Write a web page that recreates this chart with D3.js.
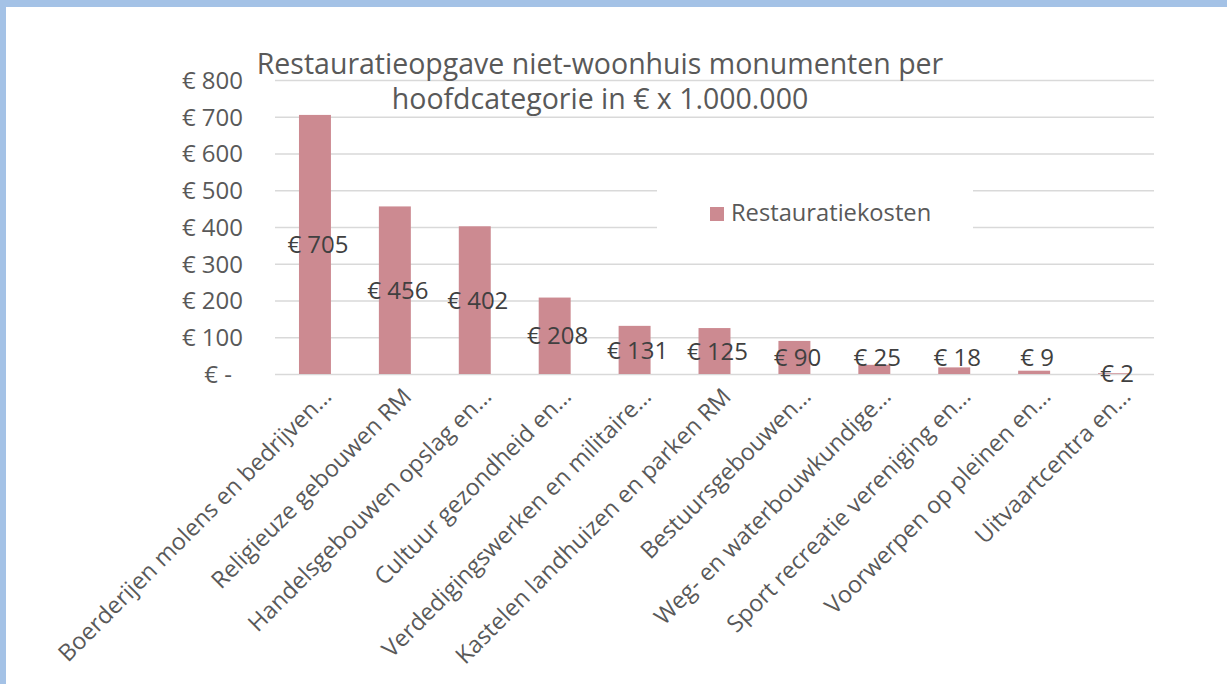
<!DOCTYPE html>
<html>
<head>
<meta charset="utf-8">
<script src="https://cdn.jsdelivr.net/npm/d3@7"></script>
<style>
  body { margin: 0; background: #ffffff; }
  svg { display: block; font-family: "Open Sans", sans-serif; }
</style>
</head>
<body>
<div id="chart"></div>
<script>
// Chart data
var categories = [
    "Boerderijen molens en bedrijven…",
    "Religieuze gebouwen RM",
    "Handelsgebouwen opslag en…",
    "Cultuur gezondheid en…",
    "Verdedigingswerken en militaire…",
    "Kastelen landhuizen en parken RM",
    "Bestuursgebouwen…",
    "Weg- en waterbouwkundige…",
    "Sport recreatie vereniging en…",
    "Voorwerpen op pleinen en…",
    "Uitvaartcentra en…"
];
var costs = [705, 456, 402, 208, 131, 125, 90, 25, 18, 9, 2];
var yTicks = [0, 100, 200, 300, 400, 500, 600, 700, 800];
var titleLines = ["Restauratieopgave niet-woonhuis monumenten per", "hoofdcategorie in € x 1.000.000"];
var seriesName = "Restauratiekosten";

// SVG area
var svgWidth = 1227;
var svgHeight = 684;

// plot area inside the svg
var chartMargin = { top: 80, right: 73, bottom: 310, left: 275 };
var width = svgWidth - chartMargin.left - chartMargin.right;
var height = svgHeight - chartMargin.top - chartMargin.bottom;

var svg = d3.select("#chart")
    .append("svg")
    .attr("width", svgWidth)
    .attr("height", svgHeight);

// blue frame at top and left
svg.append("rect").attr("x", 0).attr("y", 0).attr("width", svgWidth).attr("height", 7).attr("fill", "#a4c2e6");
svg.append("rect").attr("x", 0).attr("y", 0).attr("width", 6).attr("height", svgHeight).attr("fill", "#a4c2e6");

var chartGroup = svg.append("g")
    .attr("transform", `translate(${chartMargin.left}, ${chartMargin.top})`);

// scales
var xBandScale = d3.scaleBand()
    .domain(categories)
    .range([0, width])
    .paddingInner(0.6)
    .paddingOuter(0.3);

var yLinearScale = d3.scaleLinear()
    .domain([0, 800])
    .range([height, 0]);

// y axis with gridlines
var leftAxis = d3.axisLeft(yLinearScale)
    .tickValues(yTicks)
    .tickSize(-width)
    .tickPadding(32)
    .tickFormat(d => d === 0 ? "€ -" : "€ " + d);

var yAxis = chartGroup.append("g")
    .call(leftAxis);
yAxis.select(".domain").remove();
yAxis.selectAll(".tick line")
    .attr("stroke", "#d9d9d9")
    .attr("stroke-width", 1.5);
yAxis.selectAll(".tick text")
    .attr("fill", "#595959")
    .attr("font-size", 24)
    .attr("font-family", "Open Sans, sans-serif")
    .attr("dy", "0.35em")
    .attr("dx", d => d === 0 ? -11 : 0);

// legend (white box hides gridlines behind it)
var legend = chartGroup.append("g")
    .attr("transform", `translate(${657 - chartMargin.left}, ${186 - chartMargin.top})`);
legend.append("rect")
    .attr("width", 316)
    .attr("height", 47)
    .attr("fill", "#ffffff");
legend.append("rect")
    .attr("x", 53)
    .attr("y", 21)
    .attr("width", 14)
    .attr("height", 14)
    .attr("fill", "#cc8a91");
legend.append("text")
    .attr("x", 74)
    .attr("y", 35)
    .attr("fill", "#595959")
    .attr("font-size", 23.7)
    .text(seriesName);

// bars
chartGroup.selectAll("rect.bar")
    .data(costs)
    .enter()
    .append("rect")
    .attr("class", "bar")
    .attr("x", (d, i) => xBandScale(categories[i]))
    .attr("y", d => yLinearScale(d))
    .attr("width", xBandScale.bandwidth())
    .attr("height", d => height - yLinearScale(d))
    .attr("fill", "#cc8a91");

// data labels in the middle of each bar;
// small bars get their label lifted so it sits above the axis line (the tiniest one stays on it)
function labelY(d) {
    var mid = (yLinearScale(d) + height) / 2;
    if (d < 5) return mid;
    return Math.min(mid, yLinearScale(45));
}

chartGroup.selectAll("text.value")
    .data(costs)
    .enter()
    .append("text")
    .attr("class", "value")
    .attr("x", (d, i) => xBandScale(categories[i]) + xBandScale.bandwidth() / 2 + 3)
    .attr("y", d => labelY(d))
    .attr("dy", "0.36em")
    .attr("text-anchor", "middle")
    .attr("fill", "#404040")
    .attr("font-size", 24)
    .text(d => "€ " + d);

// x axis labels, rotated
var bottomAxis = d3.axisBottom(xBandScale).tickSize(0);
var xAxis = chartGroup.append("g")
    .attr("transform", `translate(0, ${height})`)
    .call(bottomAxis);
xAxis.select(".domain").remove();
xAxis.selectAll(".tick text")
    .attr("x", 0)
    .attr("y", 0)
    .attr("dy", 0)
    .attr("text-anchor", "end")
    .attr("fill", "#595959")
    .attr("font-size", 23.4)
    .attr("font-family", "Open Sans, sans-serif")
    .attr("transform", "translate(18, 24) rotate(-45)");

// title
svg.append("g")
    .selectAll("text")
    .data(titleLines)
    .enter()
    .append("text")
    .attr("x", 600)
    .attr("y", (d, i) => 74 + i * 35)
    .attr("text-anchor", "middle")
    .attr("fill", "#595959")
    .attr("font-size", 28.5)
    .text(d => d);
</script>
</body>
</html>
